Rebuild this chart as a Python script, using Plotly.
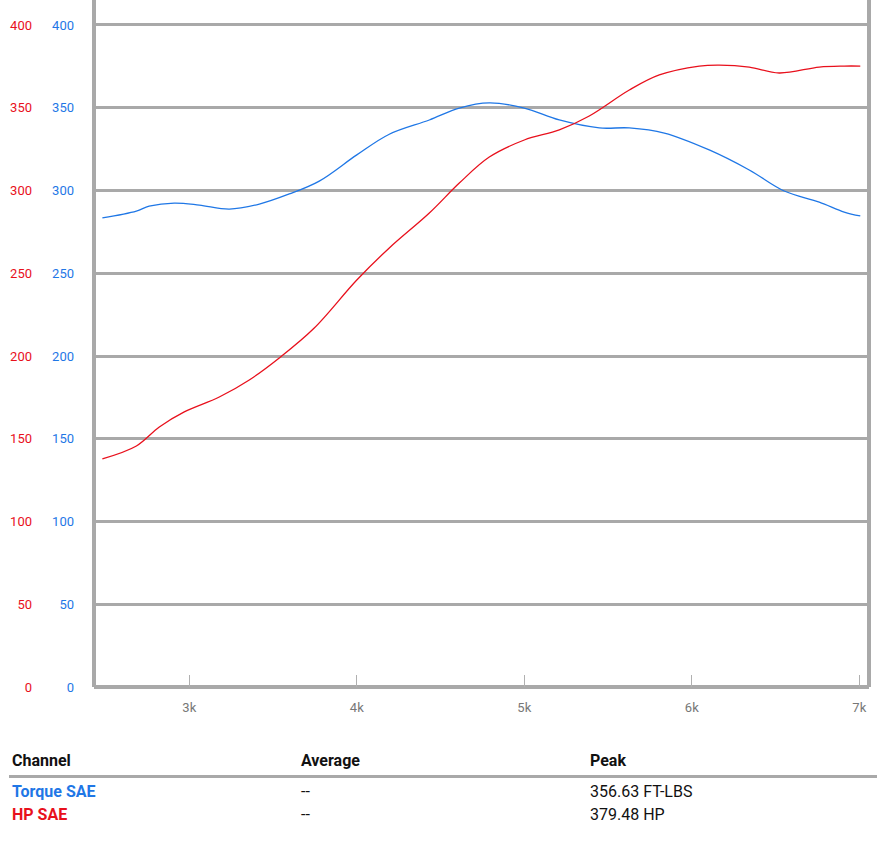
import plotly.graph_objects as go

rpm_tq = [2481, 2684, 2760, 2910, 3060, 3239, 3418, 3597, 3776, 4000, 4194, 4433, 4612,
          4791, 5000, 5209, 5448, 5627, 5836, 6104, 6343, 6552, 6761, 6910, 7006]
torque = [283.4, 287.6, 290.5, 292.4, 291.2, 288.8, 291.8, 297.9, 305.7, 321.5, 334.0, 342.6,
          349.8, 352.9, 349.8, 342.6, 337.8, 337.8, 334.7, 324.5, 312.4, 299.7, 293.0, 287.0, 284.6]

rpm_hp = [2481, 2684, 2821, 2970, 3179, 3358, 3537, 3746, 4000, 4194, 4433, 4612, 4791,
          5000, 5209, 5388, 5627, 5806, 6045, 6164, 6343, 6522, 6761, 6910, 7006]
hp = [137.8, 145.6, 157.1, 166.2, 175.2, 185.5, 198.8, 216.9, 245.9, 265.3, 286.4, 304.5,
      320.2, 330.5, 336.6, 345.0, 360.7, 369.8, 375.2, 375.8, 374.6, 371.0, 374.6, 375.2, 375.2]

x_tickvals = [3000, 4000, 5000, 6000, 7000]
x_ticktext = ["3k", "4k", "5k", "6k", "7k"]
y_tickvals = [0, 50, 100, 150, 200, 250, 300, 350, 400]

channels = ["Torque SAE", "HP SAE"]
averages = ["--", "--"]
peaks = ["356.63 FT-LBS", "379.48 HP"]

BLUE = "#1f77e6"
RED = "#e8101c"
GRID = "#a9a9a9"
FONT = "Roboto"

W, H = 892, 855
L, R, T, B = 94, 23, 0, 168
plot_w = W - L - R
plot_h = H - T - B

def px(xp):
    return (xp - L) / plot_w

def py(yp):
    return (H - B - yp) / plot_h

fig = go.Figure()
fig.add_trace(go.Scatter(x=rpm_tq, y=torque, mode="lines", name="Torque SAE",
                         line=dict(color=BLUE, width=1.3, shape="spline"), yaxis="y"))
fig.add_trace(go.Scatter(x=rpm_hp, y=hp, mode="lines", name="HP SAE",
                         line=dict(color=RED, width=1.3, shape="spline"), yaxis="y2"))

fig.update_layout(
    width=W, height=H,
    margin=dict(l=L, r=R, t=T, b=B, autoexpand=False),
    paper_bgcolor="white", plot_bgcolor="white",
    showlegend=False,
    font=dict(family=FONT),
    xaxis=dict(range=[2431, 7058], tickvals=x_tickvals, ticktext=x_ticktext,
               ticks="inside", ticklen=12, tickwidth=1, tickcolor="#b0b0b0",
               ticklabelstandoff=11,
               showgrid=False, zeroline=False, showline=False,
               tickfont=dict(size=13, color="#777777", family=FONT), automargin=False),
    yaxis=dict(range=[0, 415.1], tickvals=y_tickvals, showgrid=True, gridcolor=GRID, gridwidth=3,
               zeroline=False, showline=False, ticks="", ticklabelstandoff=19,
               tickfont=dict(size=13, color=BLUE, family=FONT), automargin=False),
    yaxis2=dict(range=[0, 415.1], tickvals=y_tickvals, overlaying="y", side="left",
                showgrid=False, zeroline=False, showline=False, ticks="", ticklabelstandoff=61,
                tickfont=dict(size=13, color=RED, family=FONT), automargin=False),
)

# plot borders (left, right, bottom)
fig.add_shape(type="line", xref="paper", yref="paper", x0=0, x1=0, y0=0, y1=1,
              line=dict(color=GRID, width=4), layer="below")
fig.add_shape(type="line", xref="paper", yref="paper", x0=1, x1=1, y0=0, y1=1,
              line=dict(color=GRID, width=4), layer="below")
fig.add_shape(type="line", xref="paper", yref="paper", x0=0, x1=1, y0=0, y1=0,
              line=dict(color=GRID, width=4), layer="below")

# table
fig.add_shape(type="line", xref="paper", yref="paper", x0=px(9), x1=px(877),
              y0=py(776.5), y1=py(776.5), line=dict(color=GRID, width=3))

col_x = [10, 299, 588]
headers = ["Channel", "Average", "Peak"]
for cx, h in zip(col_x, headers):
    fig.add_annotation(text="<b>" + h + "</b>", xref="paper", yref="paper", x=px(cx), y=py(760),
                       xanchor="left", yanchor="middle", showarrow=False,
                       font=dict(size=16, color="#111111", family=FONT))

row_y = [791, 814]
row_colors = [BLUE, RED]
for ry, ch, av, pk, col in zip(row_y, channels, averages, peaks, row_colors):
    fig.add_annotation(text="<b>" + ch + "</b>", xref="paper", yref="paper", x=px(col_x[0]), y=py(ry),
                       xanchor="left", yanchor="middle", showarrow=False,
                       font=dict(size=16, color=col, family=FONT))
    fig.add_annotation(text=av, xref="paper", yref="paper", x=px(col_x[1]), y=py(ry),
                       xanchor="left", yanchor="middle", showarrow=False,
                       font=dict(size=16, color="#111111", family=FONT))
    fig.add_annotation(text=pk, xref="paper", yref="paper", x=px(col_x[2]), y=py(ry),
                       xanchor="left", yanchor="middle", showarrow=False,
                       font=dict(size=16, color="#111111", family=FONT))

fig.write_html("out.html", config={"displayModeBar": False},
               post_script="document.body.style.margin='0';document.body.style.overflow='hidden';")
